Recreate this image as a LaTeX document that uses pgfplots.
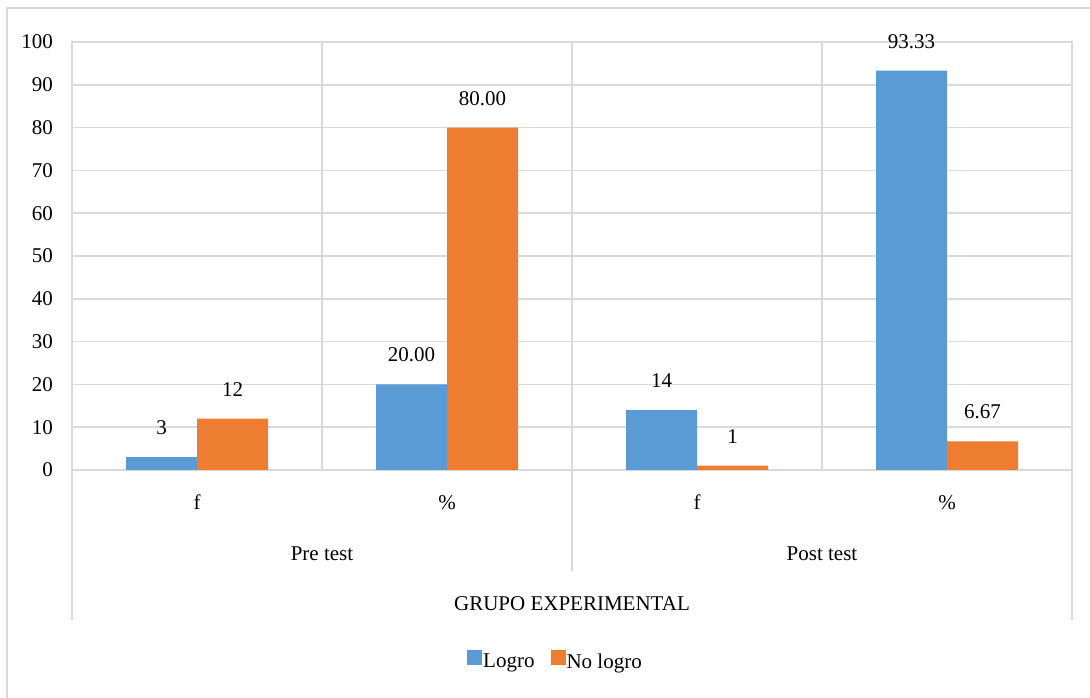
\documentclass[border=0pt]{standalone}
\usepackage{pgfplots}
\pgfplotsset{compat=1.18}
\usepackage{pgfplotstable}
\usepackage{fontspec}
\setmainfont{Liberation Serif}
\definecolor{cblue}{HTML}{5B9BD5}
\definecolor{corange}{HTML}{ED7D31}
\definecolor{cgrid}{HTML}{D9D9D9}
\pgfplotstableread{
x y label
0 3 3
1 20 20.00
2 14 14
3 93.33 93.33
}\logro
\pgfplotstableread{
x y label
0 12 12
1 80 80.00
2 1 1
3 6.67 6.67
}\nologro
\begin{document}
\begin{tikzpicture}
\useasboundingbox (0,0) rectangle (1090pt,698pt);
\fill[white] (0,0) rectangle (1090pt,698pt);
\begin{scope}
\clip (0,0) rectangle (1090pt,698pt);
\draw[cgrid, line width=2pt] (7pt,-10pt) rectangle (1100pt,690pt);
\end{scope}
\begin{axis}[
  at={(72pt,228pt)}, anchor=south west,
  scale only axis, width=1000pt, height=428pt,
  xmin=-0.5, xmax=3.5, ymin=0, ymax=100,
  ytick={0,10,...,100},
  xtick={0,1,2,3}, xticklabels={f,\%,f,\%},
  major tick length=0pt,
  ymajorgrids,
  grid style={cgrid, line width=1.5pt},
  extra x ticks={0.5,1.5,2.5}, extra x tick labels={},
  extra x tick style={grid=major, major tick length=0pt},
  axis line style={cgrid, line width=1.5pt},
  ybar=0pt, bar width=71pt,
  /pgf/number format/assume math mode=true,
  font=\fontsize{21}{25}\selectfont,
  yticklabel style={anchor=east, inner sep=0pt, xshift=-19pt},
  xticklabel style={anchor=north, inner sep=0pt, yshift=-25pt},
  nodes near coords,
  point meta=explicit symbolic,
  every node near coord/.append style={anchor=south, inner sep=0pt, yshift=22pt, text=black},
  clip=false,
  legend columns=2,
  legend style={at={(0.483,-0.4446)}, anchor=center, draw=none, fill=none,
    font=\fontsize{21}{25}\selectfont,
    nodes={inner sep=1pt},
    /tikz/every even column/.append style={column sep=15pt}},
  sqlegend/.style={legend image code/.code={\fill[##1] (0pt,-3pt) rectangle (15pt,12pt);}},
]
\addplot[fill=cblue, draw=none, sqlegend] table[x=x, y=y, meta=label] {\logro};
\addlegendentry{Logro}
\addplot[fill=corange, draw=none, sqlegend] table[x=x, y=y, meta=label] {\nologro};
\addlegendentry{No logro}
\draw[cgrid, line width=1.5pt] (axis cs:-0.5,0) -- (axis cs:-0.5,-35.05);
\draw[cgrid, line width=1.5pt] (axis cs:3.5,0) -- (axis cs:3.5,-35.05);
\draw[cgrid, line width=1.5pt] (axis cs:1.5,0) -- (axis cs:1.5,-23.6);
\node[anchor=base] at (axis description cs:0.25,-0.2103) {Pre test};
\node[anchor=base] at (axis description cs:0.75,-0.2103) {Post test};
\node[anchor=base] at (axis description cs:0.5,-0.3294) {GRUPO EXPERIMENTAL};
\end{axis}
\end{tikzpicture}
\end{document}
